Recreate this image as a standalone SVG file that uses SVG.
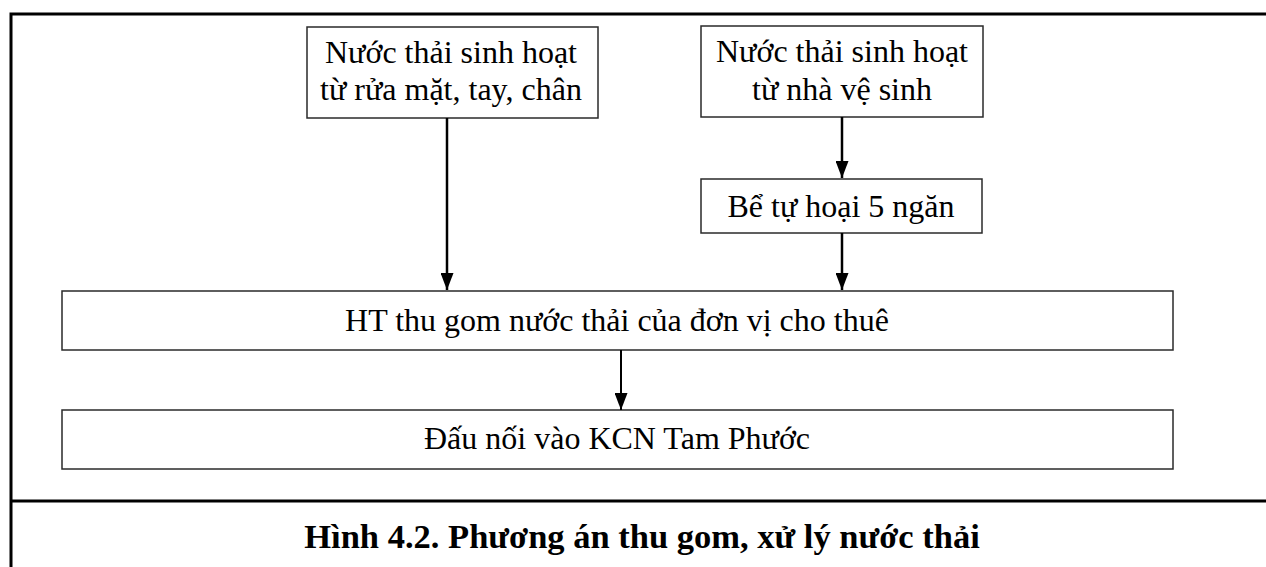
<svg xmlns="http://www.w3.org/2000/svg" width="1266" height="567" viewBox="0 0 1266 567">
  <style>
    .frame { stroke: #000; stroke-width: 3; fill: none; }
    .box { fill: #fff; stroke: #2a2a2a; stroke-width: 1.5; }
    .t { font-family: "Liberation Serif", "Times New Roman", serif; font-size: 32px; fill: #000; text-anchor: middle; }
    .cap { font-family: "Liberation Serif", "Times New Roman", serif; font-size: 34.5px; font-weight: bold; fill: #000; text-anchor: middle; }
    .conn { stroke: #000; stroke-width: 2.5; fill: none; marker-end: url(#ah); }
  </style>
  <defs>
    <marker id="ah" viewBox="0 0 17 13" refX="17" refY="6.5" markerWidth="17" markerHeight="13" markerUnits="userSpaceOnUse" orient="auto">
      <path d="M0,0 L17,6.5 L0,13 Z" fill="#000"/>
    </marker>
  </defs>
  <rect width="1266" height="567" fill="#fff"/>
  <g id="frame">
    <path class="frame" d="M11,567 L11,14 L1266,14"/>
    <path class="frame" d="M11,501 L1266,501"/>
  </g>
  <g id="node-rua">
    <rect class="box" x="307" y="27" width="291" height="91"/>
    <text class="t" x="451" y="63">Nước thải sinh hoạt</text>
    <text class="t" x="451" y="100">từ rửa mặt, tay, chân</text>
  </g>
  <g id="node-vesinh">
    <rect class="box" x="701" y="26" width="282" height="91"/>
    <text class="t" x="842" y="62">Nước thải sinh hoạt</text>
    <text class="t" x="842" y="100">từ nhà vệ sinh</text>
  </g>
  <g id="node-be">
    <rect class="box" x="701" y="179" width="281" height="54"/>
    <text class="t" x="841" y="217">Bể tự hoại 5 ngăn</text>
  </g>
  <g id="node-ht">
    <rect class="box" x="62" y="291" width="1111" height="59"/>
    <text class="t" x="617" y="331">HT thu gom nước thải của đơn vị cho thuê</text>
  </g>
  <g id="node-daunoi">
    <rect class="box" x="62" y="410" width="1111" height="59"/>
    <text class="t" x="617" y="449">Đấu nối vào KCN Tam Phước</text>
  </g>
  <g id="connectors">
    <line class="conn" x1="447" y1="118" x2="447" y2="290"/>
    <line class="conn" x1="842" y1="117" x2="842" y2="178"/>
    <line class="conn" x1="842" y1="233" x2="842" y2="290"/>
    <line class="conn" x1="621" y1="350" x2="621" y2="410" style="stroke-width:2"/>
  </g>
  <text class="cap" x="642" y="548">Hình 4.2. Phương án thu gom, xử lý nước thải</text>
</svg>
